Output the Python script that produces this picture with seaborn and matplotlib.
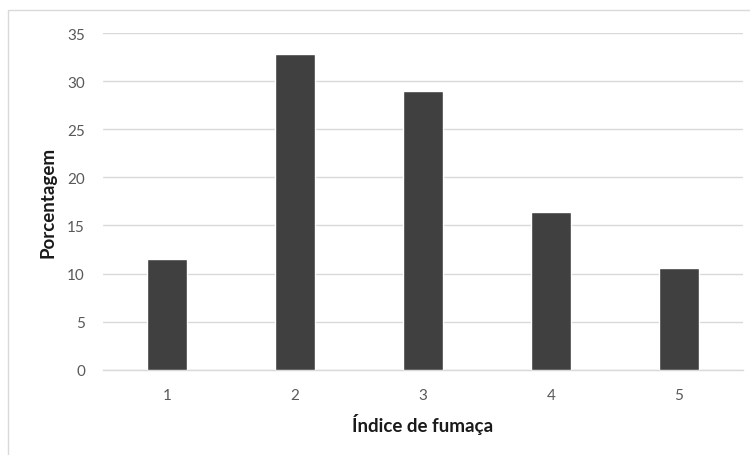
import matplotlib
matplotlib.use("Agg")
import matplotlib.pyplot as plt
import matplotlib.patches as mpatches
import seaborn as sns
import pandas as pd

# Smoke index categories and the percentage of each
indices = ["1", "2", "3", "4", "5"]
percentages = [11.5, 32.8, 29.0, 16.4, 10.6]
y_ticks = [0, 5, 10, 15, 20, 25, 30, 35]

df = pd.DataFrame({"indice": indices, "pct": percentages})

sns.set_theme(style="white")
plt.rcParams["font.family"] = ["Lato", "DejaVu Sans"]

fig = plt.figure(figsize=(7.5, 4.56), dpi=100)
ax = fig.add_axes([103 / 750, 1 - 370.7 / 456, (743 - 103) / 750, (370.7 - 34) / 456])

# Chart-area frame
fig.patches.append(mpatches.Rectangle((8 / 750, -0.05), 1.2, 1 - 11 / 456 + 0.05,
                                      transform=fig.transFigure, fill=False,
                                      edgecolor="#d9d9d9", linewidth=1.0, zorder=0))

sns.barplot(data=df, x="indice", y="pct", color="#404040", width=0.314,
            saturation=1, ax=ax, zorder=3)

ax.set_ylim(0, 35)
ax.set_yticks(y_ticks)
ax.set_yticklabels([str(t) for t in y_ticks])
ax.set_xlim(-0.5, 4.5)
ax.yaxis.grid(True, color="#d9d9d9", linewidth=1.0, zorder=0)
ax.set_axisbelow(True)

for side in ["top", "right", "left"]:
    ax.spines[side].set_visible(False)
ax.spines["bottom"].set_color("#d9d9d9")
ax.spines["bottom"].set_linewidth(1.0)

ax.tick_params(axis="y", length=0, pad=13, labelsize=11, labelcolor="#595959")
ax.tick_params(axis="x", length=0, pad=13, labelsize=11, labelcolor="#595959")

ax.set_xlabel("Índice de fumaça", fontsize=13.5, fontweight="bold", color="#1a1a1a", labelpad=8)
ax.set_ylabel("Porcentagem", fontsize=13.5, fontweight="bold", color="#1a1a1a", labelpad=8)

fig.savefig("out.png", dpi=100, facecolor="white")
